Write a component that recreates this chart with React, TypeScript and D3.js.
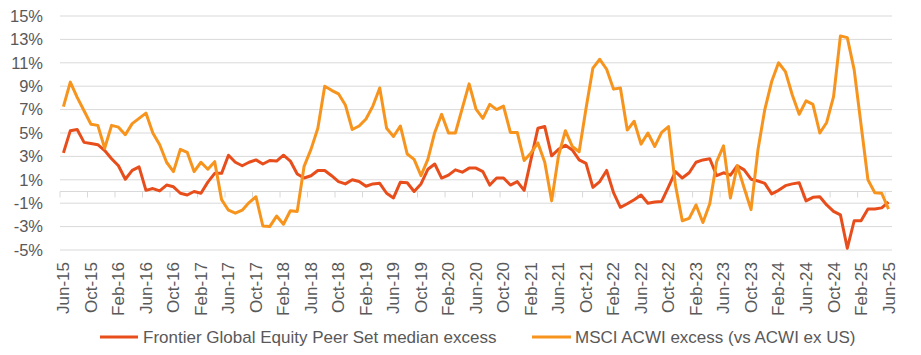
import React from "react";
import * as d3 from "d3";

const MONTHS = ["Jan","Feb","Mar","Apr","May","Jun","Jul","Aug","Sep","Oct","Nov","Dec"];
// Monthly categories Jun-15 .. Jun-25
const categories: string[] = [];
for (let k = 0; k < 121; k++) {
  const m = (5 + k) % 12;
  const yr = 15 + Math.floor((5 + k) / 12);
  categories.push(`${MONTHS[m]}-${yr}`);
}

const frontier: number[] = [
  3.3, 5.2, 5.3, 4.2, 4.1, 4.0, 3.5, 2.8, 2.2, 1.05,
  1.8, 2.1, 0.1, 0.25, 0.05, 0.55, 0.4, -0.15, -0.3, 0.0,
  -0.15, 0.8, 1.55, 1.55, 3.1, 2.5, 2.2, 2.5, 2.7, 2.35,
  2.65, 2.6, 3.1, 2.6, 1.5, 1.15, 1.35, 1.8, 1.8, 1.35,
  0.85, 0.65, 1.0, 0.85, 0.45, 0.65, 0.7, -0.15, -0.55, 0.8,
  0.75, 0.0, 0.65, 1.9, 2.35, 1.15, 1.4, 1.85, 1.65, 2.0,
  2.0, 1.7, 0.55, 1.15, 1.15, 0.55, 0.85, 0.1, 2.75, 5.4,
  5.55, 3.05, 3.6, 3.95, 3.55, 2.7, 2.4, 0.35, 0.85, 1.8,
  -0.1, -1.35, -1.05, -0.7, -0.3, -1.0, -0.9, -0.85, 0.4, 1.7,
  1.15, 1.6, 2.5, 2.7, 2.8, 1.35, 1.6, 1.4, 2.2, 1.85,
  1.05, 0.9, 0.7, -0.2, 0.1, 0.5, 0.65, 0.75, -0.8, -0.5,
  -0.45, -1.15, -1.7, -2.0, -4.85, -2.5, -2.5, -1.5, -1.5, -1.4,
  -0.9,
];

const msci: number[] = [
  7.25, 9.35, 8.05, 6.9, 5.75, 5.65, 3.7, 5.65, 5.5, 4.85,
  5.8, 6.25, 6.7, 5.0, 4.0, 2.5, 1.7, 3.6, 3.35, 1.7,
  2.5, 1.9, 2.55, -0.7, -1.6, -1.85, -1.6, -0.95, -0.45, -2.95,
  -3.0, -2.1, -2.8, -1.65, -1.7, 2.15, 3.6, 5.4, 9.0, 8.65,
  8.35, 7.4, 5.3, 5.6, 6.2, 7.3, 8.85, 5.4, 4.7, 5.6,
  3.2, 2.75, 1.35, 2.75, 5.05, 6.6, 5.0, 5.0, 7.1, 9.2,
  7.05, 6.25, 7.45, 7.0, 7.3, 5.05, 5.05, 2.65, 3.3, 4.15,
  2.5, -0.8, 3.05, 5.2, 3.85, 3.4, 7.1, 10.55, 11.3, 10.45,
  8.75, 8.85, 5.25, 6.0, 4.05, 5.0, 3.85, 5.05, 5.55, 0.55,
  -2.5, -2.3, -1.15, -2.65, -1.05, 2.55, 3.9, -0.55, 2.2, 0.3,
  -1.55, 3.55, 7.0, 9.4, 11.0, 10.25, 8.25, 6.6, 7.75, 7.45,
  5.0, 5.9, 8.1, 13.3, 13.15, 10.4, 5.7, 1.0, -0.1, -0.15,
  -1.5,
];

const yTicks: number[] = [-5, -3, -1, 1, 3, 5, 7, 9, 11, 13, 15];
const seriesNames: string[] = [
  "Frontier Global Equity Peer Set median excess",
  "MSCI ACWI excess (vs ACWI ex US)",
];
const colors: string[] = ["#E84E1B", "#F7941D"];

const W = 921;
const H = 355;
const FONT = "'Liberation Sans', Arial, Helvetica, sans-serif";
const TEXT = "#595959";
const GRID = "#D9D9D9";

export default function App() {
  const x = d3.scaleBand<string>().domain(categories).range([60, 892]).padding(0);
  const y = d3.scaleLinear().domain([-5, 15]).range([250, 16]);
  const cx = (c: string) => (x(c) as number) + x.bandwidth() / 2;

  const line = d3
    .line<number>()
    .x((_, i) => cx(categories[i]))
    .y((d) => y(d))
    .curve(d3.curveLinear);

  const tickIdx = categories.map((_, i) => i).filter((i) => i % 4 === 0);

  return (
    <svg
      width={W}
      height={H}
      style={{ position: "absolute", left: 0, top: 0, background: "#fff" }}
      fontFamily={FONT}
    >
      {yTicks.map((t) => (
        <g key={t}>
          <line x1={60} x2={892} y1={y(t)} y2={y(t)} stroke={GRID} strokeWidth={1} />
          <text
            x={43}
            y={y(t)}
            dy="0.35em"
            textAnchor="end"
            fontSize={16.5}
            fill={TEXT}
          >
            {`${t}%`}
          </text>
        </g>
      ))}
      {/* zero axis */}
      <line x1={60} x2={892} y1={y(0)} y2={y(0)} stroke={GRID} strokeWidth={1} />
      {tickIdx.map((i) => (
        <line
          key={"t" + i}
          x1={x(categories[i]) as number}
          x2={x(categories[i]) as number}
          y1={y(0)}
          y2={y(0) + 6}
          stroke={GRID}
          strokeWidth={1}
        />
      ))}
      {tickIdx.map((i) => (
        <text
          key={"l" + i}
          transform={`translate(${cx(categories[i])},262) rotate(-90)`}
          dy="0.35em"
          textAnchor="end"
          fontSize={17}
          fill={TEXT}
        >
          {categories[i]}
        </text>
      ))}
      <path d={line(frontier) || ""} fill="none" stroke={colors[0]} strokeWidth={3} strokeLinejoin="round" />
      <path d={line(msci) || ""} fill="none" stroke={colors[1]} strokeWidth={3} strokeLinejoin="round" />
      {/* legend */}
      <line x1={100} x2={138} y1={337} y2={337} stroke={colors[0]} strokeWidth={3} />
      <text x={143} y={337} dy="0.35em" fontSize={17} fill={TEXT}>
        {seriesNames[0]}
      </text>
      <line x1={532} x2={571} y1={337} y2={337} stroke={colors[1]} strokeWidth={3} />
      <text x={575} y={337} dy="0.35em" fontSize={17} fill={TEXT}>
        {seriesNames[1]}
      </text>
    </svg>
  );
}
